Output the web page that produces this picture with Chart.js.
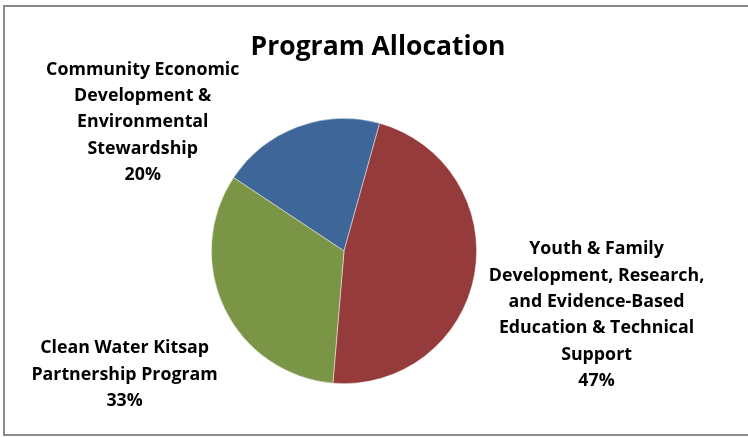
<!DOCTYPE html>
<html>
<head>
<meta charset="utf-8">
<script src="https://cdn.jsdelivr.net/npm/chart.js@4"></script>
<style>
html,body{margin:0;padding:0;background:#fff;}
#wrap{width:748px;height:437px;position:relative;}
</style>
</head>
<body>
<div id="wrap"><canvas id="c" width="748" height="437"></canvas></div>
<script>
// ---- data ----
const chartTitle = "Program Allocation";
const categories = [
  ["Community Economic", "Development &", "Environmental", "Stewardship"],
  ["Youth & Family", "Development, Research,", "and Evidence-Based", "Education & Technical", "Support"],
  ["Clean Water Kitsap", "Partnership Program"]
];
const shares = [20, 47, 33];
const sliceColors = ["#3E6698", "#953B3B", "#7A9545"];

const FONT = "'Open Sans', 'DejaVu Sans', sans-serif";

const frameAndLabels = {
  id: 'frameAndLabels',
  beforeDraw(chart) {
    const ctx = chart.ctx;
    ctx.save();
    ctx.fillStyle = '#fff';
    ctx.fillRect(0, 0, chart.width, chart.height);
    ctx.strokeStyle = '#8c8c8c';
    ctx.lineWidth = 2;
    ctx.strokeRect(4, 6, chart.width + 10, 429);
    ctx.restore();
  },
  afterDatasetsDraw(chart, args, opts) {
    const ctx = chart.ctx;
    const meta = chart.getDatasetMeta(0);
    const data = chart.data.datasets[0].data;
    const total = data.reduce((a, b) => a + b, 0);
    ctx.save();
    // title
    ctx.fillStyle = '#000';
    ctx.font = "bold 26.5px " + FONT;
    ctx.textAlign = 'center';
    ctx.textBaseline = 'middle';
    ctx.fillText(chartTitle, opts.titleX, opts.titleY);
    // data labels
    ctx.font = "bold 17.8px " + FONT;
    meta.data.forEach((arc, i) => {
      const p = arc.getProps(['x', 'y', 'startAngle', 'endAngle', 'outerRadius'], true);
      const mid = (p.startAngle + p.endAngle) / 2;
      const ax = p.x + Math.cos(mid) * p.outerRadius;
      const ay = p.y + Math.sin(mid) * p.outerRadius;
      const off = opts.offsets[i];
      const cx = ax + off[0], cy = ay + off[1];
      const lines = [...chart.data.labels[i], Math.round(data[i] / total * 100) + '%'];
      const lh = opts.lineHeight;
      const y0 = cy - (lines.length - 1) * lh / 2;
      lines.forEach((t, k) => ctx.fillText(t, cx, y0 + k * lh));
    });
    ctx.restore();
  }
};

new Chart(document.getElementById('c'), {
  type: 'pie',
  data: {
    labels: categories,
    datasets: [{
      data: shares,
      backgroundColor: sliceColors,
      borderColor: 'rgba(255,255,255,0.6)',
      borderWidth: 0.75
    }]
  },
  options: {
    responsive: false,
    animation: false,
    rotation: -56.4,
    layout: { padding: { left: 211, right: 271, top: 118, bottom: 53 } },
    plugins: {
      legend: { display: false },
      title: { display: false },
      tooltip: { enabled: false },
      frameAndLabels: {
        titleX: 378, titleY: 47,
        lineHeight: 26.3,
        offsets: [[-155, -4.5], [122, 40.5], [-100, 66]]
      }
    }
  },
  plugins: [frameAndLabels]
});
</script>
</body>
</html>
